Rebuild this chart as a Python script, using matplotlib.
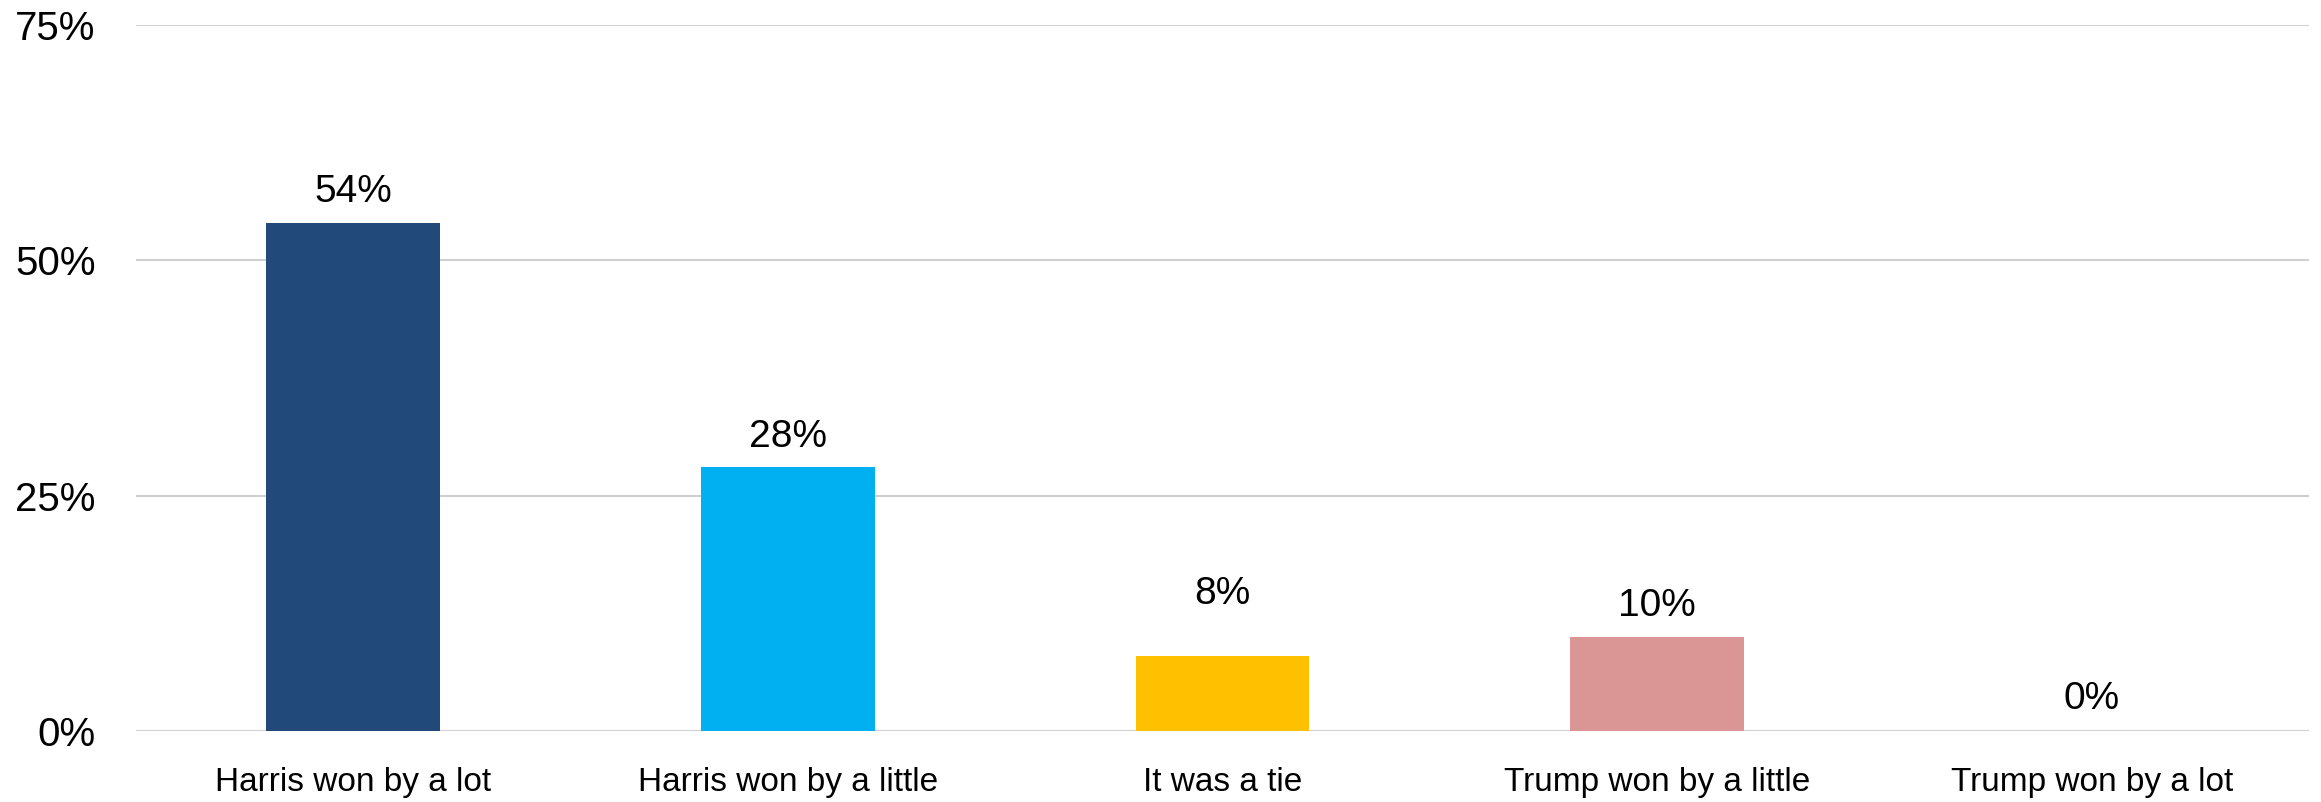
import matplotlib
matplotlib.use("Agg")
import matplotlib.pyplot as plt
from matplotlib.ticker import FixedLocator, FuncFormatter

categories = ["Harris won by a lot", "Harris won by a little", "It was a tie",
              "Trump won by a little", "Trump won by a lot"]
values = [54, 28, 8, 10, 0]
colors = ["#214A7B", "#00B0F0", "#FFC000", "#DA9694", "#A6A6A6"]
yticks = [0, 25, 50, 75]

# label offsets above bar tops (points); the tie label sits higher in the original
label_offsets = [15, 15, 37, 15, 16]

plt.rcParams['font.family'] = ['Liberation Sans', 'DejaVu Sans']

fig = plt.figure(figsize=(23.21, 8.02), dpi=100)
ax = fig.add_axes([136/2321, 71/802, (2309-136)/2321, (731-25)/802])

x = list(range(len(categories)))
ax.bar(x, values, width=0.40, color=colors, zorder=3)

for xi, v, off in zip(x, values, label_offsets):
    ax.annotate(f"{v}%", (xi, v), xytext=(0, off), textcoords="offset points",
                ha="center", va="baseline", fontsize=28, color="black")

ax.set_xlim(-0.5, len(categories) - 0.5)
ax.set_ylim(0, 75)
ax.yaxis.set_major_locator(FixedLocator(yticks))
ax.yaxis.set_major_formatter(FuncFormatter(lambda v, p: f"{int(v)}%"))
ax.set_xticks(x)
ax.set_xticklabels(categories, fontsize=24)
ax.tick_params(axis='y', length=0, pad=29, labelsize=29)
ax.tick_params(axis='x', length=0, pad=26)
ax.grid(axis='y', color="#D0D0D0", linewidth=1.5, zorder=0)
for s in ax.spines.values():
    s.set_visible(False)

fig.savefig("out.png", dpi=100)
